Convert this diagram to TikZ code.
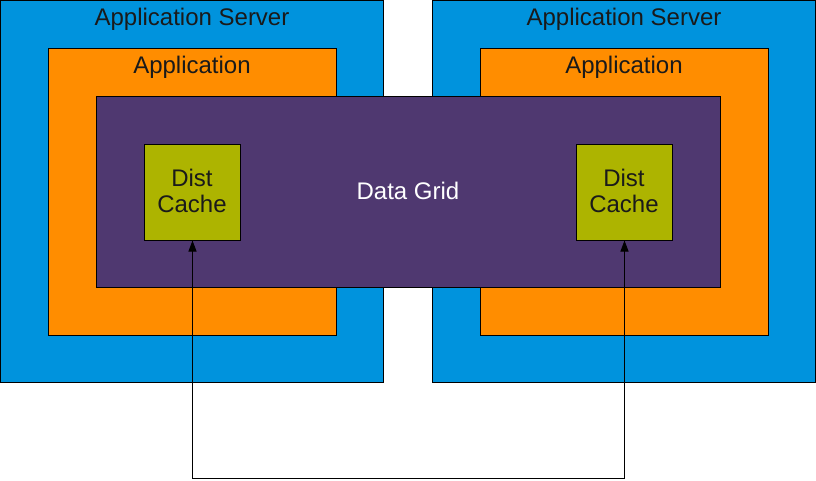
\documentclass[tikz,border=0pt]{standalone}
\usepackage{fontspec}
\setmainfont{Liberation Sans}
\usetikzlibrary{arrows.meta}
\definecolor{srvblue}{HTML}{0093DD}
\definecolor{apporange}{HTML}{FF8D00}
\definecolor{gridpurple}{HTML}{4F3870}
\definecolor{cacheolive}{HTML}{ADB400}
\definecolor{txtdark}{HTML}{1A1A1A}
\tikzset{
  box/.style={draw=black, line width=1pt, rectangle, inner sep=0pt, outer sep=0pt, anchor=north west},
  srv/.style={box, fill=srvblue, minimum width=383pt, minimum height=382pt},
  app/.style={box, fill=apporange, minimum width=288pt, minimum height=287pt},
  grid/.style={box, fill=gridpurple, minimum width=624pt, minimum height=191pt},
  cache/.style={box, fill=cacheolive, minimum width=96pt, minimum height=96pt},
  lbl/.style={font=\fontsize{24}{26}\selectfont, text=txtdark, anchor=base, inner sep=0pt},
  wlbl/.style={lbl, text=white},
  conn/.style={draw=black, line width=1pt, {Triangle[length=11pt,width=8pt]}-{Triangle[length=11pt,width=8pt]}}
}
\begin{document}
\begin{tikzpicture}[x=1pt,y=1pt]
\useasboundingbox (0,0) rectangle (816,480);
% servers
\node[srv] (srvL) at (0.5,479.5) {};
\node[srv] (srvR) at (432.5,479.5) {};
\node[lbl] (srvLt) at (192,454) {Application Server};
\node[lbl] (srvRt) at (624,454) {Application Server};
% applications
\node[app] (appL) at (48.5,431.5) {};
\node[app] (appR) at (480.5,431.5) {};
\node[lbl] (appLt) at (192,406) {Application};
\node[lbl] (appRt) at (624,406) {Application};
% data grid
\node[grid] (grid) at (96.5,383.5) {};
\node[wlbl] (gridt) at (408,280.5) {Data Grid};
% caches
\node[cache] (cL) at (144.5,335.5) {};
\node[cache] (cR) at (576.5,335.5) {};
\node[lbl] (cLt1) at (192,293.3) {Dist};
\node[lbl] (cLt2) at (192,267.3) {Cache};
\node[lbl] (cRt1) at (624,293.3) {Dist};
\node[lbl] (cRt2) at (624,267.3) {Cache};
% connector
\coordinate (bot) at (408,1.5);
\draw[conn] (cL.south) -- (cL.south |- bot) -- (cR.south |- bot) -- (cR.south);
\end{tikzpicture}
\end{document}
